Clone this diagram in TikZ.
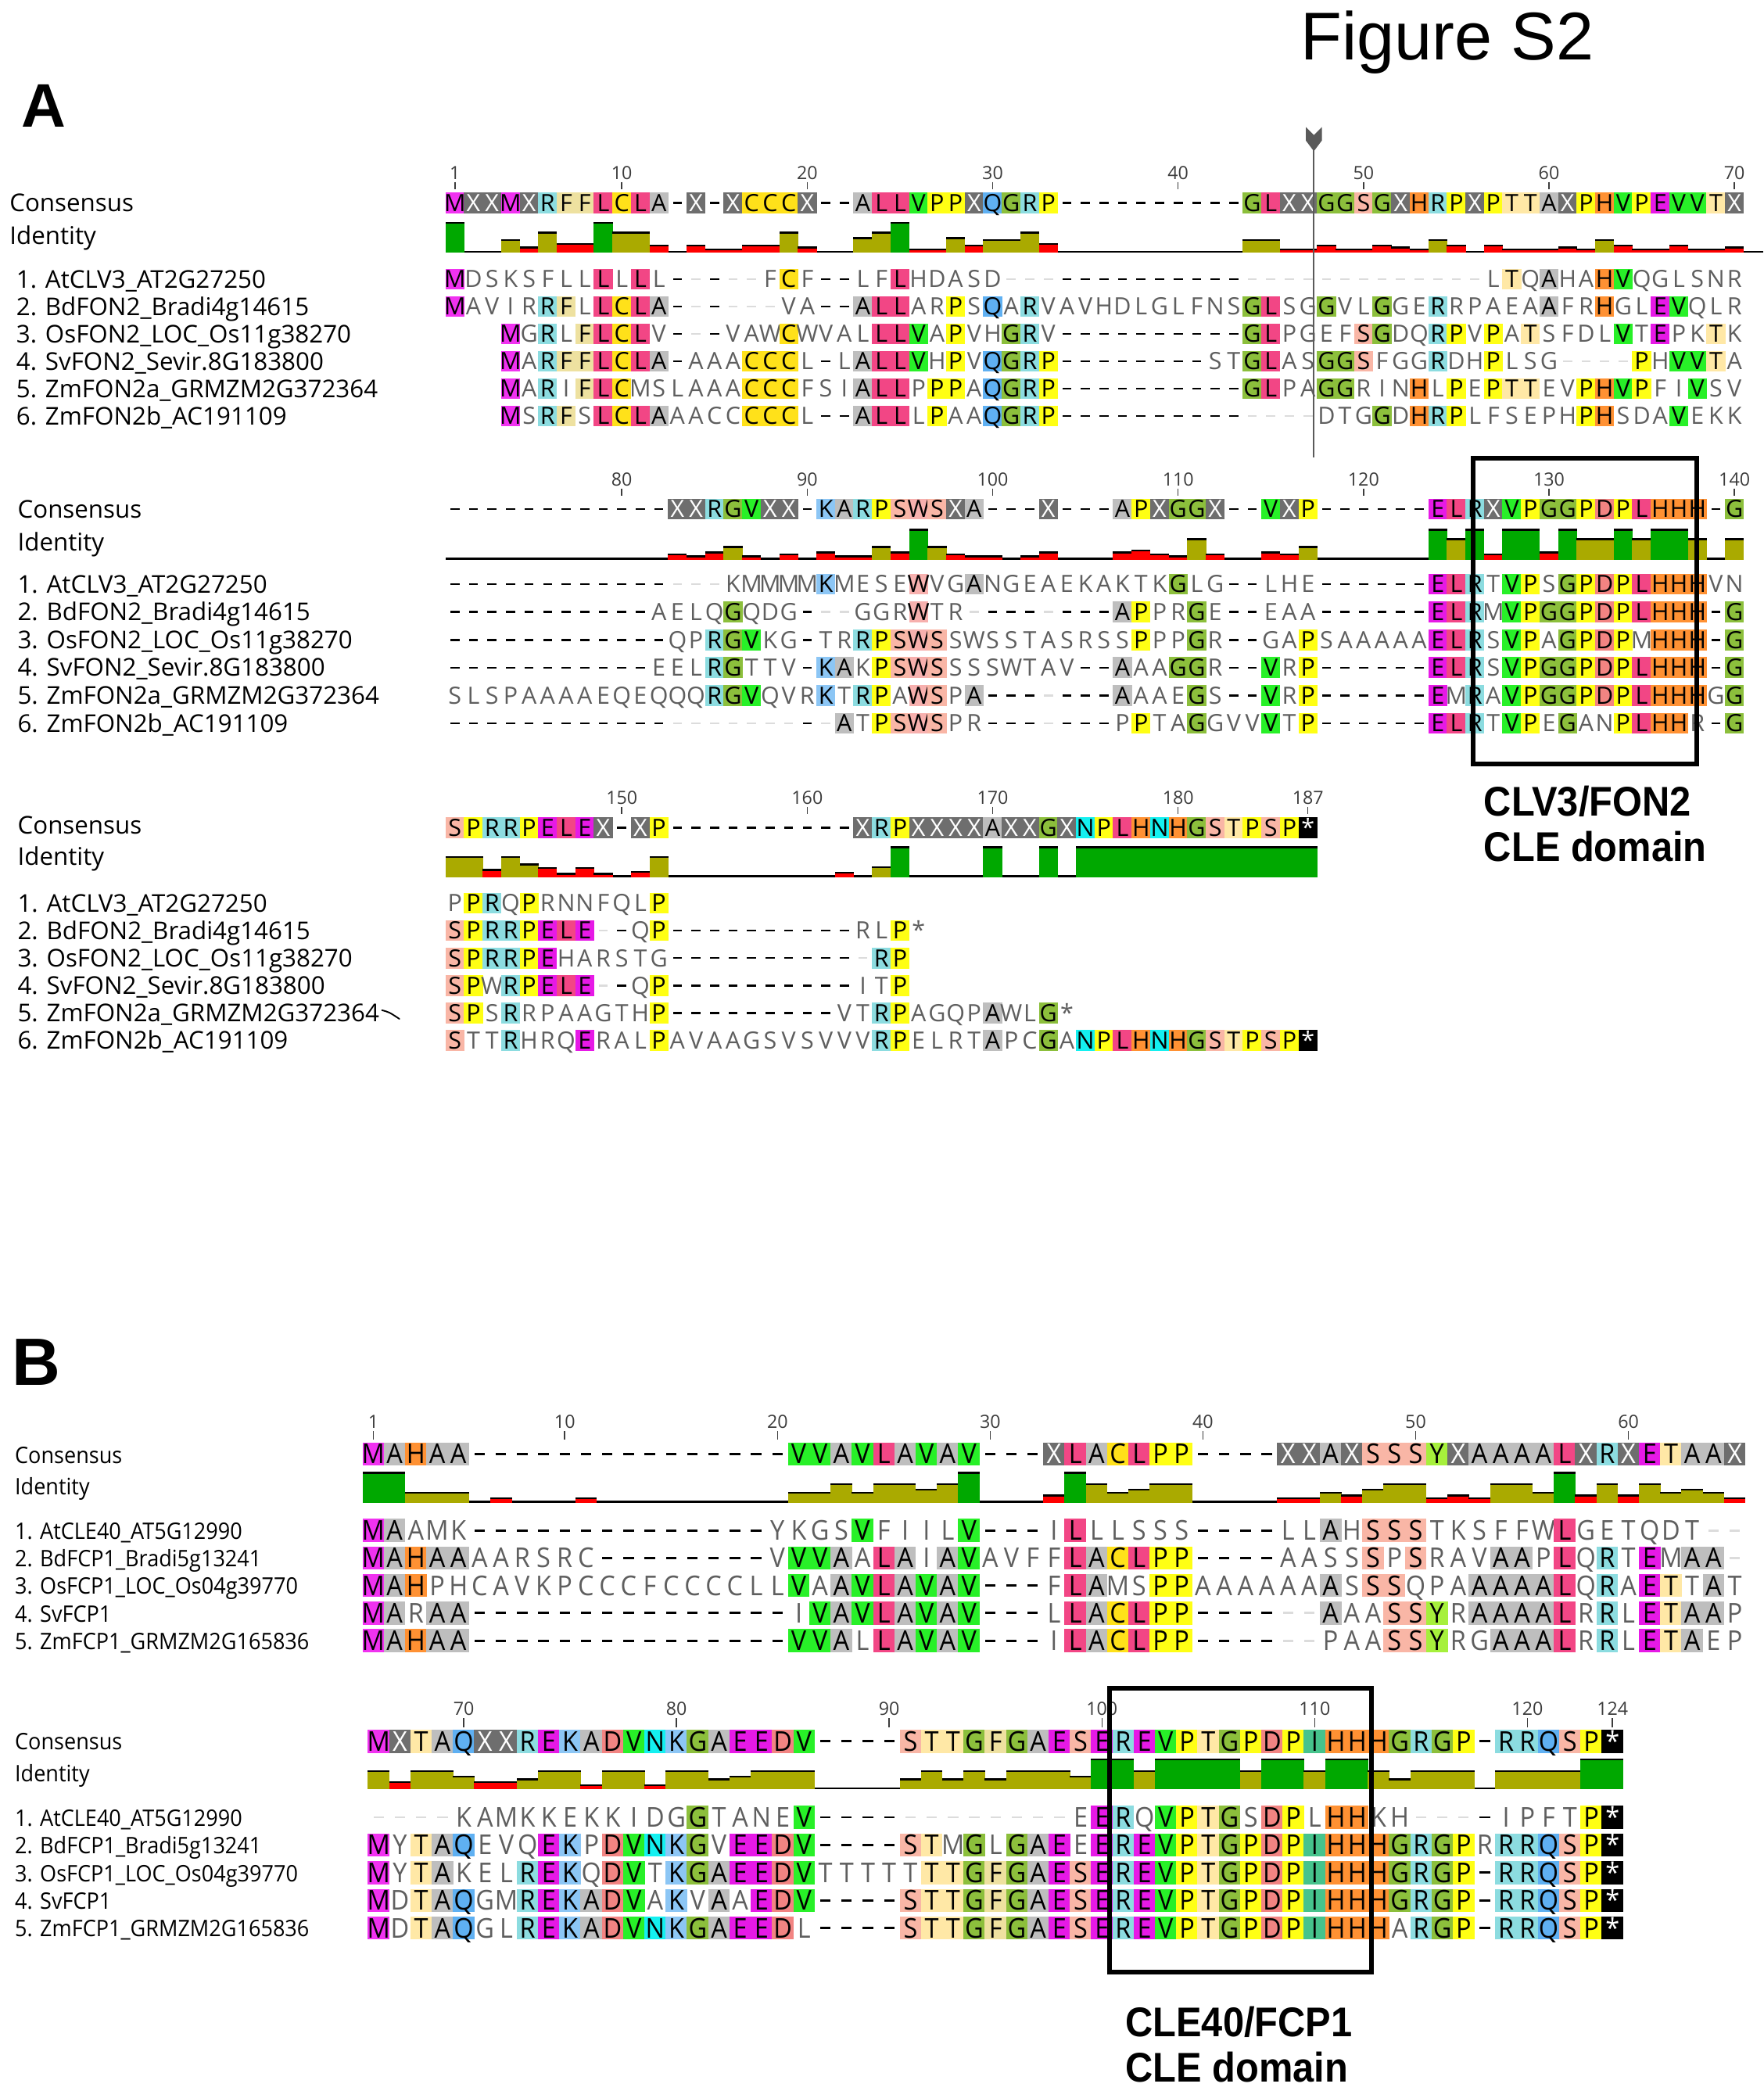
\documentclass[tikz,border=0pt]{standalone}
\usepackage{fontspec}
\setmainfont{Open Sans}
\newfontfamily\seqAfont{Open Sans}
\newfontfamily\seqBfont{Open Sans}[FakeStretch=0.93]
\newfontfamily\titlefont{Liberation Sans}
\newfontfamily\domfont{Liberation Sans}[FakeStretch=0.92]

\definecolor{resM}{HTML}{F032F0}
\definecolor{resE}{HTML}{E619E6}
\definecolor{resX}{HTML}{6E6E6E}
\definecolor{resR}{HTML}{8CDCE0}
\definecolor{resF}{HTML}{EEE1A0}
\definecolor{resL}{HTML}{F24685}
\definecolor{resC}{HTML}{FFE11A}
\definecolor{resA}{HTML}{BEBEBE}
\definecolor{resV}{HTML}{28F028}
\definecolor{resP}{HTML}{FFFF14}
\definecolor{resQ}{HTML}{5FB0F2}
\definecolor{resG}{HTML}{8CBF3C}
\definecolor{resS}{HTML}{F9B6A6}
\definecolor{resH}{HTML}{FF9133}
\definecolor{resT}{HTML}{FFE8A6}
\definecolor{resK}{HTML}{8CC6F5}
\definecolor{resW}{HTML}{F7B0AE}
\definecolor{resD}{HTML}{F28482}
\definecolor{resN}{HTML}{14F0F0}
\definecolor{resY}{HTML}{A6F03C}
\definecolor{resI}{HTML}{46C38C}
\definecolor{lgap}{HTML}{DCDCDC}
\definecolor{gtxt}{HTML}{5F5F5F}
\definecolor{idgreen}{HTML}{00A800}
\definecolor{idolive}{HTML}{AAAA00}
\definecolor{idred}{HTML}{FF0000}
\definecolor{numgray}{HTML}{3C3C3C}
\definecolor{markgray}{HTML}{5A5A5A}

\makeatletter
\newcount\aln@c
\newcount\aln@m
\newcount\aln@p
\newcount\aln@k
\def\aln@dot{.}\def\aln@dash{-}\def\aln@X{X}\def\aln@star{*}
\def\alnrow#1#2{\def\aln@blk{#1}\def\aln@row{#2}\global\aln@c=0\relax}
\def\alnadd#1{\@tfor\aln@t:=#1\do{\global\advance\aln@c by 1\relax
  \expandafter\global\expandafter\let\csname aln@\aln@blk @\aln@row @\the\aln@c\endcsname\aln@t}}
\def\alngap#1{\aln@k=0\relax
  \loop\ifnum\aln@k<#1\relax
    \advance\aln@k by 1\relax
    \global\advance\aln@c by 1\relax
    \expandafter\global\expandafter\let\csname aln@\aln@blk @\aln@row @\the\aln@c\endcsname\aln@dash
  \repeat}
\def\alnskip#1{\global\advance\aln@c by #1\relax}
\def\alnget#1#2#3{%
  \expandafter\ifx\csname aln@#1@#2@#3\endcsname\relax
    \let\aln@ch\aln@dot
  \else
    \expandafter\let\expandafter\aln@ch\csname aln@#1@#2@#3\endcsname
  \fi}
\def\aln@cell#1#2{%
  \ifx\aln@ch\aln@dot\else
  \ifx\aln@ch\aln@dash
    \ifx\aln@cons\aln@dash\def\aln@gc{black}\else\def\aln@gc{lgap}\fi
    \fill[fill=\aln@gc] ({\alnxc-\alndl},{#1-\alndt}) rectangle ({\alnxc+\alndl},{#1+\alndt});
  \else
    \ifx\aln@ch\aln@cons
      \ifx\aln@ch\aln@star
        \fill[black] ({\alnxl-0.15},{#1-\alnbh/2}) rectangle ({\alnxr+0.15},{#1+\alnbh/2});
        \node[restxt,text=white,name=#2] at (\alnxc,{#1+\alnoff}) {*};
      \else
        \edef\aln@col{res\aln@ch}%
        \fill[fill=\aln@col] ({\alnxl-0.15},{#1-\alnbh/2}) rectangle ({\alnxr+0.15},{#1+\alnbh/2});
        \ifx\aln@ch\aln@X\def\aln@tc{white}\else\def\aln@tc{black}\fi
        \node[restxt,text=\aln@tc,name=#2] at (\alnxc,{#1+\alnoff}) {\aln@ch};
      \fi
    \else
      \node[restxt,text=gtxt,name=#2] at (\alnxc,{#1+\alnoff}) {\aln@ch};
    \fi
  \fi\fi}
\def\aln@bar#1{%
  \ifnum\aln@m>1\relax
    \pgfmathsetmacro\alnidv{\the\aln@p/(\the\aln@m*(\the\aln@m-1)/2)}%
  \else
    \ifnum\aln@m=1\relax\def\alnidv{1}\else\def\alnidv{0}\fi
  \fi
  \ifdim\alnidv pt>0.001pt\relax
    \pgfmathsetmacro\alnhh{(0.08+0.92*\alnidv)*\alnH}%
    \ifdim\alnidv pt>0.995pt\relax\def\aln@bc{idgreen}\else
      \ifdim\alnidv pt<0.295pt\relax\def\aln@bc{idred}\else\def\aln@bc{idolive}\fi\fi
    \fill[fill=\aln@bc] ({\alnxl-0.15},{#1-\alnhh}) rectangle ({\alnxr+0.15},#1);
    \fill[black] ({\alnxl-0.15},{#1-\alnhh}) rectangle ({\alnxr+0.15},{#1-\alnhh+1.4});
  \fi}
% #1 blk #2 nrows #3 ncols #4 x0 #5 dx #6 ycons #7 ybase #8 yrow1 #9 dy
\def\alnblock#1#2#3#4#5#6#7#8#9{%
  \fill[black] ({#4-#5/2},{#7-1.4}) rectangle ({#4+(#3-0.5)*#5},#7);
  \foreach \alnC in {1,...,#3}{%
    \pgfmathsetmacro\alnxc{#4+(\alnC-1)*#5}%
    \pgfmathsetmacro\alnxl{\alnxc-#5/2}%
    \pgfmathsetmacro\alnxr{\alnxc+#5/2}%
    \alnget{#1}{0}{\alnC}\let\aln@cons\aln@ch
    \aln@cell{#6}{#1-0-\alnC}%
    \foreach \alnR in {1,...,#2}{%
      \pgfmathsetmacro\alnyc{#8+(\alnR-1)*#9}%
      \alnget{#1}{\alnR}{\alnC}%
      \aln@cell{\alnyc}{#1-\alnR-\alnC}%
    }%
    \global\aln@m=0\relax\global\aln@p=0\relax
    \foreach \alnRi in {1,...,#2}{%
      \alnget{#1}{\alnRi}{\alnC}\let\aln@a\aln@ch
      \ifx\aln@a\aln@dot\else
        \global\advance\aln@m by 1\relax
        \ifx\aln@a\aln@dash\else
          \foreach \alnRj in {1,...,#2}{%
            \ifnum\alnRj>\alnRi\relax
              \alnget{#1}{\alnRj}{\alnC}%
              \ifx\aln@ch\aln@a\global\advance\aln@p by 1\relax\fi
            \fi}%
        \fi
      \fi}%
    \aln@bar{#7}%
  }}
% numbers: #1 x0 #2 dx #3 startcol #4 tick top #5 tick bottom #6 label base #7 list #8 prefix
\def\alnnums#1#2#3#4#5#6#7#8{%
  \foreach \alnN in {#7}{%
    \pgfmathsetmacro\alnxn{#1+(\alnN-#3)*#2}%
    \draw[numgray,line width=0.9pt] (\alnxn,#4) -- (\alnxn,#5);
    \node[numtxt,name=#8-\alnN] at (\alnxn,#6) {\alnN};
  }}

% ---------------- data ----------------
\alnrow{A1}{0}\alnadd{MXXMXRFFLCLA-X-XCCCX--ALLVPPXQGRP}\alngap{10}\alnadd{GLXXGGSGXHRPXPTTAXPHVPEVVTX}
\alnrow{A1}{1}\alnadd{MDSKSFLLLLLL}\alngap{5}\alnadd{FCF--LFLHDASD}\alngap{26}\alnadd{LTQAHAHVQGLSNR}
\alnrow{A1}{2}\alnadd{MAVIRRFLLCLA}\alngap{6}\alnadd{VA--ALLARPSQARVAVHDLGLFNSGLSGGVLGGERRPAEAAFRHGLEVQLR}
\alnrow{A1}{3}\alnskip{3}\alnadd{MGRLFLCLV---VAWCWVALLLVAPVHGRV}\alngap{10}\alnadd{GLPGEFSGDQRPVPATSFDLVTEPKTK}
\alnrow{A1}{4}\alnskip{3}\alnadd{MARFFLCLA-AAACCCL-LALLVHPVQGRP}\alngap{8}\alnadd{STGLASGGSFGGRDHPLSG----PHVVTA}
\alnrow{A1}{5}\alnskip{3}\alnadd{MARIFLCMSLAAACCCFSIALLPPPAQGRP}\alngap{10}\alnadd{GLPAGGRINHLPEPTTEVPHVPFIVSV}
\alnrow{A1}{6}\alnskip{3}\alnadd{MSRFSLCLAAACCCCCL--ALLLPAAQGRP}\alngap{14}\alnadd{DTGGDHRPLFSEPHPHSDAVEKK}

\alnrow{A2}{0}\alngap{12}\alnadd{XXRGVXX-KARPSWSXA---X---APXGGX--VXP}\alngap{6}\alnadd{ELRXVPGGPDPLHHH-G}
\alnrow{A2}{1}\alngap{15}\alnadd{KMMMMKMESEWVGANGEAEKAKTKGLG--LHE}\alngap{6}\alnadd{ELRTVPSGPDPLHHHVN}
\alnrow{A2}{2}\alngap{11}\alnadd{AELQGQDG---GGRWTR}\alngap{8}\alnadd{APPRGE--EAA}\alngap{6}\alnadd{ELRMVPGGPDPLHHH-G}
\alnrow{A2}{3}\alngap{12}\alnadd{QPRGVKG-TRRPSWSSWSSTASRSSPPPGR--GAPSAAAAAELRSVPAGPDPMHHH-G}
\alnrow{A2}{4}\alngap{11}\alnadd{EELRGTTV-KAKPSWSSSSWTAV--AAAGGR--VRP}\alngap{6}\alnadd{ELRSVPGGPDPLHHH-G}
\alnrow{A2}{5}\alnadd{SLSPAAAAEQEQQQRGVQVRKTRPAWSPA}\alngap{7}\alnadd{AAAEGS--VRP}\alngap{6}\alnadd{EMRAVPGGPDPLHHHGG}
\alnrow{A2}{6}\alngap{21}\alnadd{ATPSWSPR}\alngap{7}\alnadd{PPTAGGVVVTP}\alngap{6}\alnadd{ELRTVPEGANPLHHR-G}

\alnrow{A3}{0}\alnadd{SPRRPELEX-XP}\alngap{10}\alnadd{XRPXXXXAXXGXNPLHNHGSTPSP*}
\alnrow{A3}{1}\alnadd{PPRQPRNNFQLP}
\alnrow{A3}{2}\alnadd{SPRRPELE--QP}\alngap{10}\alnadd{RLP*}
\alnrow{A3}{3}\alnadd{SPRRPEHARSTG}\alngap{11}\alnadd{RP}
\alnrow{A3}{4}\alnadd{SPWRPELE--QP}\alngap{10}\alnadd{ITP}
\alnrow{A3}{5}\alnadd{SPSRRPAAGTHP}\alngap{9}\alnadd{VTRPAGQPAWLG*}
\alnrow{A3}{6}\alnadd{STTRHRQERALPAVAAGSVSVVVRPELRTAPCGANPLHNHGSTPSP*}

\alnrow{B1}{0}\alnadd{MAHAA}\alngap{15}\alnadd{VVAVLAVAV---XLACLPP----XXAXSSSYXAAAALXRXETAAX}
\alnrow{B1}{1}\alnadd{MAAMK}\alngap{14}\alnadd{YKGSVFIILV---ILLLSSS----LLAHSSSTKSFFWLGETQDT--}
\alnrow{B1}{2}\alnadd{MAHAAAARSRC}\alngap{8}\alnadd{VVVAALAIAVAVFFLACLPP----AASSSPSRAVAAPLQRTEMAA-}
\alnrow{B1}{3}\alnadd{MAHPHCAVKPCCCFCCCCLLVAAVLAVAV---FLAMSPPAAAAAAASSSQPAAAAALQRAETTAT}
\alnrow{B1}{4}\alnadd{MARAA}\alngap{15}\alnadd{IVAVLAVAV---LLACLPP------AAASSYRAAAALRRLETAAP}
\alnrow{B1}{5}\alnadd{MAHAA}\alngap{15}\alnadd{VVALLAVAV---ILACLPP------PAASSYRGAAALRRLETAEP}

\alnrow{B2}{0}\alnadd{MXTAQXXREKADVNKGAEEDV----STTGFGAESEREVPTGPDPIHHHGRGP-RRQSP*}
\alnrow{B2}{1}\alngap{4}\alnadd{KAMKKEKKIDGGTANEV}\alngap{12}\alnadd{EERQVPTGSDPLHHKH----IPFTP*}
\alnrow{B2}{2}\alnadd{MYTAQEVQEKPDVNKGVEEDV----STMGLGAEEEREVPTGPDPIHHHGRGPRRRQSP*}
\alnrow{B2}{3}\alnadd{MYTAKELREKQDVTKGAEEDVTTTTTTTGFGAESEREVPTGPDPIHHHGRGP-RRQSP*}
\alnrow{B2}{4}\alnadd{MDTAQGMREKADVAKVAAEDV----STTGFGAESEREVPTGPDPIHHHGRGP-RRQSP*}
\alnrow{B2}{5}\alnadd{MDTAQGLREKADVNKGAEEDL----STTGFGAESEREVPTGPDPIHHHARGP-RRQSP*}
\makeatother

\tikzset{
  restxt/.style={anchor=base,inner sep=0pt,outer sep=0pt,font=\alnfont},
  numtxt/.style={anchor=base,inner sep=0pt,text=numgray,font=\seqAfont\fontsize{13.6}{14}\selectfont},
  lblA/.style={anchor=base west,inner sep=0pt,font=\seqAfont\fontsize{18.3}{20}\selectfont},
  lblB/.style={anchor=base west,inner sep=0pt,font=\seqBfont\fontsize{17}{19}\selectfont},
  domlbl/.style={anchor=base west,inner sep=0pt,font=\domfont\bfseries\fontsize{31}{34}\selectfont},
  dombox/.style={draw=black,line width=3.5pt}
}

\begin{document}
\begin{tikzpicture}[x=1pt,y=-1pt]
\useasboundingbox (0,0) rectangle (1318,1568);
\fill[white] (0,0) rectangle (1318,1568);

% titles
\node[anchor=base west,inner sep=0pt,font=\titlefont\fontsize{50.5}{52}\selectfont] (title) at (972,45) {Figure S2};
\node[anchor=base west,inner sep=0pt,font=\titlefont\bfseries\fontsize{46}{48}\selectfont] (panA) at (16,95) {A};
\node[anchor=base west,inner sep=0pt,font=\titlefont\bfseries\fontsize{50}{52}\selectfont] (panB) at (9,1035) {B};

% ---------- panel A ----------
\def\alnfont{\seqAfont\fontsize{17.8}{18}\selectfont}
\def\alnbh{15.6}\def\alnoff{6.35}\def\alndl{3.4}\def\alndt{0.75}\def\alnH{23}

\alnnums{340}{13.86}{1}{136}{141.5}{134.3}{1,10,20,30,40,50,60,70}{nA1}
\fill[black] (1300,187.6) rectangle (1318,189);
\alnblock{A1}{6}{70}{340}{13.86}{151.5}{189}{208.6}{20.45}
\alnnums{340}{13.86}{71}{365}{370.5}{363.3}{80,90,100,110,120,130,140}{nA2}
\alnblock{A2}{6}{70}{340}{13.86}{380.5}{418.3}{436.6}{20.8}
\alnnums{340}{13.86}{141}{603}{608.5}{601.3}{150,160,170,180,187}{nA3}
\alnblock{A3}{6}{47}{340}{13.86}{618.5}{655.6}{675}{20.5}

% arrow marker and line
\fill[markgray] (976,95) -- (982,101) -- (988,95) -- (988,105) -- (982,113) -- (976,105) -- cycle;
\draw[markgray,line width=1pt] (982,111) -- (982,342);

% labels A
\node[lblA] (a1c) at (7,158) {Consensus};
\node[lblA] (a1i) at (7,182.5) {Identity};
\node[lblA] (a1r1) at (12,215.1) {1. AtCLV3\_AT2G27250};
\node[lblA] (a1r2) at (12,235.6) {2. BdFON2\_Bradi4g14615};
\node[lblA] (a1r3) at (12,256) {3. OsFON2\_LOC\_Os11g38270};
\node[lblA] (a1r4) at (12,276.5) {4. SvFON2\_Sevir.8G183800};
\node[lblA] (a1r5) at (12,296.9) {5. ZmFON2a\_GRMZM2G372364};
\node[lblA] (a1r6) at (12,317.4) {6. ZmFON2b\_AC191109};

\node[lblA] (a2c) at (13,387.3) {Consensus};
\node[lblA] (a2i) at (13,411.5) {Identity};
\node[lblA] (a2r1) at (13,443.1) {1. AtCLV3\_AT2G27250};
\node[lblA] (a2r2) at (13,463.9) {2. BdFON2\_Bradi4g14615};
\node[lblA] (a2r3) at (13,484.7) {3. OsFON2\_LOC\_Os11g38270};
\node[lblA] (a2r4) at (13,505.5) {4. SvFON2\_Sevir.8G183800};
\node[lblA] (a2r5) at (13,526.3) {5. ZmFON2a\_GRMZM2G372364};
\node[lblA] (a2r6) at (13,547.1) {6. ZmFON2b\_AC191109};

\node[lblA] (a3c) at (13,623.5) {Consensus};
\node[lblA] (a3i) at (13,646.5) {Identity};
\node[lblA] (a3r1) at (13,681.5) {1. AtCLV3\_AT2G27250};
\node[lblA] (a3r2) at (13,702) {2. BdFON2\_Bradi4g14615};
\node[lblA] (a3r3) at (13,722.5) {3. OsFON2\_LOC\_Os11g38270};
\node[lblA] (a3r4) at (13,743) {4. SvFON2\_Sevir.8G183800};
\node[lblA] (a3r5) at (13,763.5) {5. ZmFON2a\_GRMZM2G372364};
\node[lblA] (a3r6) at (13,784) {6. ZmFON2b\_AC191109};
\draw[black,line width=1.1pt,line cap=round] (285.5,755) .. controls (291,756.5) .. (298.5,761.5);

% CLE domain box A
\draw[dombox] (1100.9,342.5) rectangle (1268.3,571);
\node[domlbl] (domA1) at (1109,610) {CLV3/FON2};
\node[domlbl] (domA2) at (1109,644) {CLE domain};

% ---------- panel B ----------
\def\alnfont{\seqBfont\fontsize{20.4}{21}\selectfont}
\def\alnbh{17.2}\def\alnoff{7.3}\def\alndl{3.9}\def\alndt{0.85}\def\alnH{23}

\alnnums{279}{15.9}{1}{1069.5}{1076}{1067.5}{1,10,20,30,40,50,60}{nB1}
\alnblock{B1}{5}{65}{279}{15.9}{1086.7}{1123}{1143.8}{20.6}
\alnnums{283}{15.9}{66}{1284.2}{1290.7}{1282.2}{70,80,90,100,110,120,124}{nB2}
\alnblock{B2}{5}{59}{283}{15.9}{1301.4}{1337.4}{1358.2}{20.7}

\node[lblB] (b1c) at (11,1093.5) {Consensus};
\node[lblB] (b1i) at (11,1117) {Identity};
\node[lblB] (b1r1) at (11,1150.3) {1. AtCLE40\_AT5G12990};
\node[lblB] (b1r2) at (11,1170.9) {2. BdFCP1\_Bradi5g13241};
\node[lblB] (b1r3) at (11,1191.5) {3. OsFCP1\_LOC\_Os04g39770};
\node[lblB] (b1r4) at (11,1212.1) {4. SvFCP1};
\node[lblB] (b1r5) at (11,1232.7) {5. ZmFCP1\_GRMZM2G165836};

\node[lblB] (b2c) at (11,1307.5) {Consensus};
\node[lblB] (b2i) at (11,1331.5) {Identity};
\node[lblB] (b2r1) at (11,1364.7) {1. AtCLE40\_AT5G12990};
\node[lblB] (b2r2) at (11,1385.4) {2. BdFCP1\_Bradi5g13241};
\node[lblB] (b2r3) at (11,1406.1) {3. OsFCP1\_LOC\_Os04g39770};
\node[lblB] (b2r4) at (11,1426.8) {4. SvFCP1};
\node[lblB] (b2r5) at (11,1447.5) {5. ZmFCP1\_GRMZM2G165836};

\draw[dombox] (829.5,1262) rectangle (1025,1474);
\node[domlbl] (domB1) at (841,1522) {CLE40/FCP1};
\node[domlbl] (domB2) at (841,1556) {CLE domain};
\end{tikzpicture}
\end{document}
